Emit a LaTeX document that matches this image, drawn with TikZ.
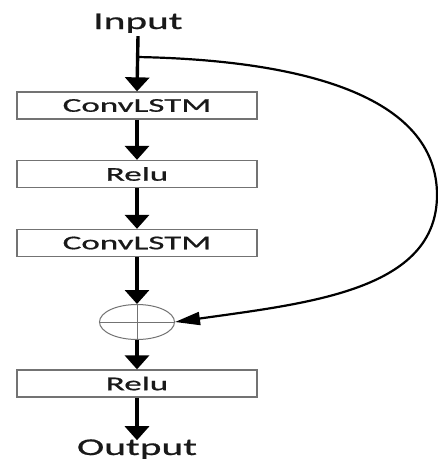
\documentclass[tikz,border=0pt]{standalone}
\usepackage{fontspec}
\setmainfont{Carlito}
\newfontfamily\widefont[FakeStretch=1.8,FakeBold=0.8]{Carlito}
\newfontfamily\widerfont[FakeStretch=1.72,FakeBold=0.8]{Carlito}
\usetikzlibrary{arrows.meta,shapes.geometric}
\begin{document}
\begin{tikzpicture}[x=1pt,y=-1pt,
  layer/.style={draw=black!55,line width=1.3pt,minimum width=240pt,minimum height=27pt,inner sep=0pt,fill=white,
    font=\widefont\fontsize{19.5}{19.5}\selectfont,text=black!90},
  io/.style={font=\widerfont\fontsize{24}{24}\selectfont,text=black!90,inner sep=0pt},
  flow/.style={line width=3.4pt,-{Triangle[width=24pt,length=14pt]}},
  skip/.style={line width=2.2pt,-{Triangle[width=13pt,length=25pt]}}]
\useasboundingbox (0,0) rectangle (438,461);
\fill[white] (0,0) rectangle (438,461);

\node[io,anchor=base] (in) at (138,29) {Input};
\node[layer] (b1) at (137,105.5) {ConvLSTM};
\node[layer] (b2) at (137,174) {Relu};
\node[layer] (b3) at (137,243) {ConvLSTM};
\node[ellipse,draw=black!55,line width=1pt,minimum width=75pt,minimum height=35pt,inner sep=0pt] (sum) at (137,322) {};
\draw[black!55,line width=0.9pt] (sum.north) -- (sum.south) (sum.west) -- (sum.east);
\node[layer] (b4) at (137,383.5) {Relu};
\node[io,anchor=base] (out) at (137,455) {Output};

\coordinate (br) at (137,57);
\draw[flow] ([yshift=-3pt]in.south) -- (b1.north);
\draw[flow] (b1.south) -- (b2.north);
\draw[flow] (b2.south) -- (b3.north);
\draw[flow] (b3.south) -- (sum.north);
\draw[flow] (sum.south) -- (b4.north);
\draw[flow] (b4.south) -- ([yshift=-1pt]out.north);

\draw[skip] (br) .. controls (300,60) and (437,95) .. (437,195)
  .. controls (437,290) and (310,303) .. (sum.east);
\end{tikzpicture}
\end{document}
